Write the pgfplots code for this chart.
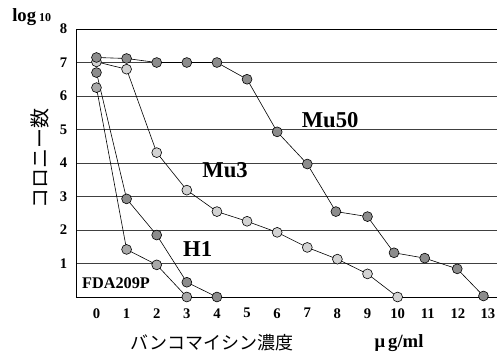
\documentclass[border=0pt]{standalone}
\usepackage{pgfplots}
\pgfplotsset{compat=1.18}
\usepackage{fontspec}
\setmainfont{Liberation Serif}
\newfontfamily\jp{Noto Sans CJK JP}
\definecolor{dk}{HTML}{8C8C8C}
\definecolor{md}{HTML}{A8A8A8}
\definecolor{lt}{HTML}{D2D2D2}
\begin{document}
\begin{tikzpicture}[x=0.75pt,y=0.75pt]
\path[use as bounding box] (0,0) rectangle (497,358);
\begin{axis}[
  at={(57pt,45.75pt)}, anchor=south west,
  scale only axis, width=315.75pt, height=201pt,
  xmin=-0.68, xmax=13.3, ymin=0, ymax=8,
  xtick={0,...,13}, ytick={1,...,8},
  major tick length=0pt,
  ymajorgrids, grid style={black!75, line width=0.6pt},
  axis line style={black, line width=0.6pt},
  tick label style={font=\fontsize{11}{11}\selectfont\bfseries},
  /pgf/number format/assume math mode=true,
  xticklabel style={yshift=-5pt},
  yticklabel style={xshift=-3pt},
  clip=false,
  every axis plot/.append style={black, line width=0.45pt, mark=*, mark size=3.7pt, mark options={line width=0.4pt}},
]
\addplot[mark options={fill=md}] coordinates {(0,6.25) (1,1.42) (2,0.96) (3,0)};
\addplot[mark options={fill=dk}] coordinates {(0,6.7) (1,2.93) (2,1.85) (3,0.44) (4,0)};
\addplot[mark options={fill=lt}] coordinates {(0,7.02) (1,6.8) (2,4.31) (3,3.19) (4,2.55) (5,2.26) (6,1.93) (7,1.48) (8,1.13) (9,0.69) (10,0)};
\addplot[mark options={fill=dk}] coordinates {(0,7.15) (1,7.12) (2,7.0) (3,7.0) (4,7.0) (5,6.5) (6,4.93) (7,3.97) (7.95,2.55) (9,2.4) (9.88,1.32) (10.9,1.16) (11.98,0.84) (12.85,0.03)};
\node[font=\fontsize{17}{17}\selectfont\bfseries] at (axis cs:7.76,5.28) {Mu50};
\node[font=\fontsize{17}{17}\selectfont\bfseries] at (axis cs:4.27,3.79) {Mu3};
\node[font=\fontsize{17}{17}\selectfont\bfseries] at (axis cs:3.36,1.43) {H1};
\node[font=\fontsize{12.2}{12}\selectfont\bfseries] at (axis cs:0.65,0.42) {FDA209P};
\end{axis}
\node[anchor=base west, inner sep=0pt] at (12,336) {\fontsize{14}{14}\selectfont\bfseries log\,\fontsize{9}{9}\selectfont 10};
\node[rotate=90, font=\jp\fontsize{15}{15}\selectfont] at (40,200) {コロニー数};
\node[font=\jp\fontsize{13.5}{14}\selectfont] at (212,15) {バンコマイシン濃度};
\node[font=\fontsize{14}{14}\selectfont\bfseries] at (399,15) {μ\,g/ml};
\end{tikzpicture}
\end{document}
